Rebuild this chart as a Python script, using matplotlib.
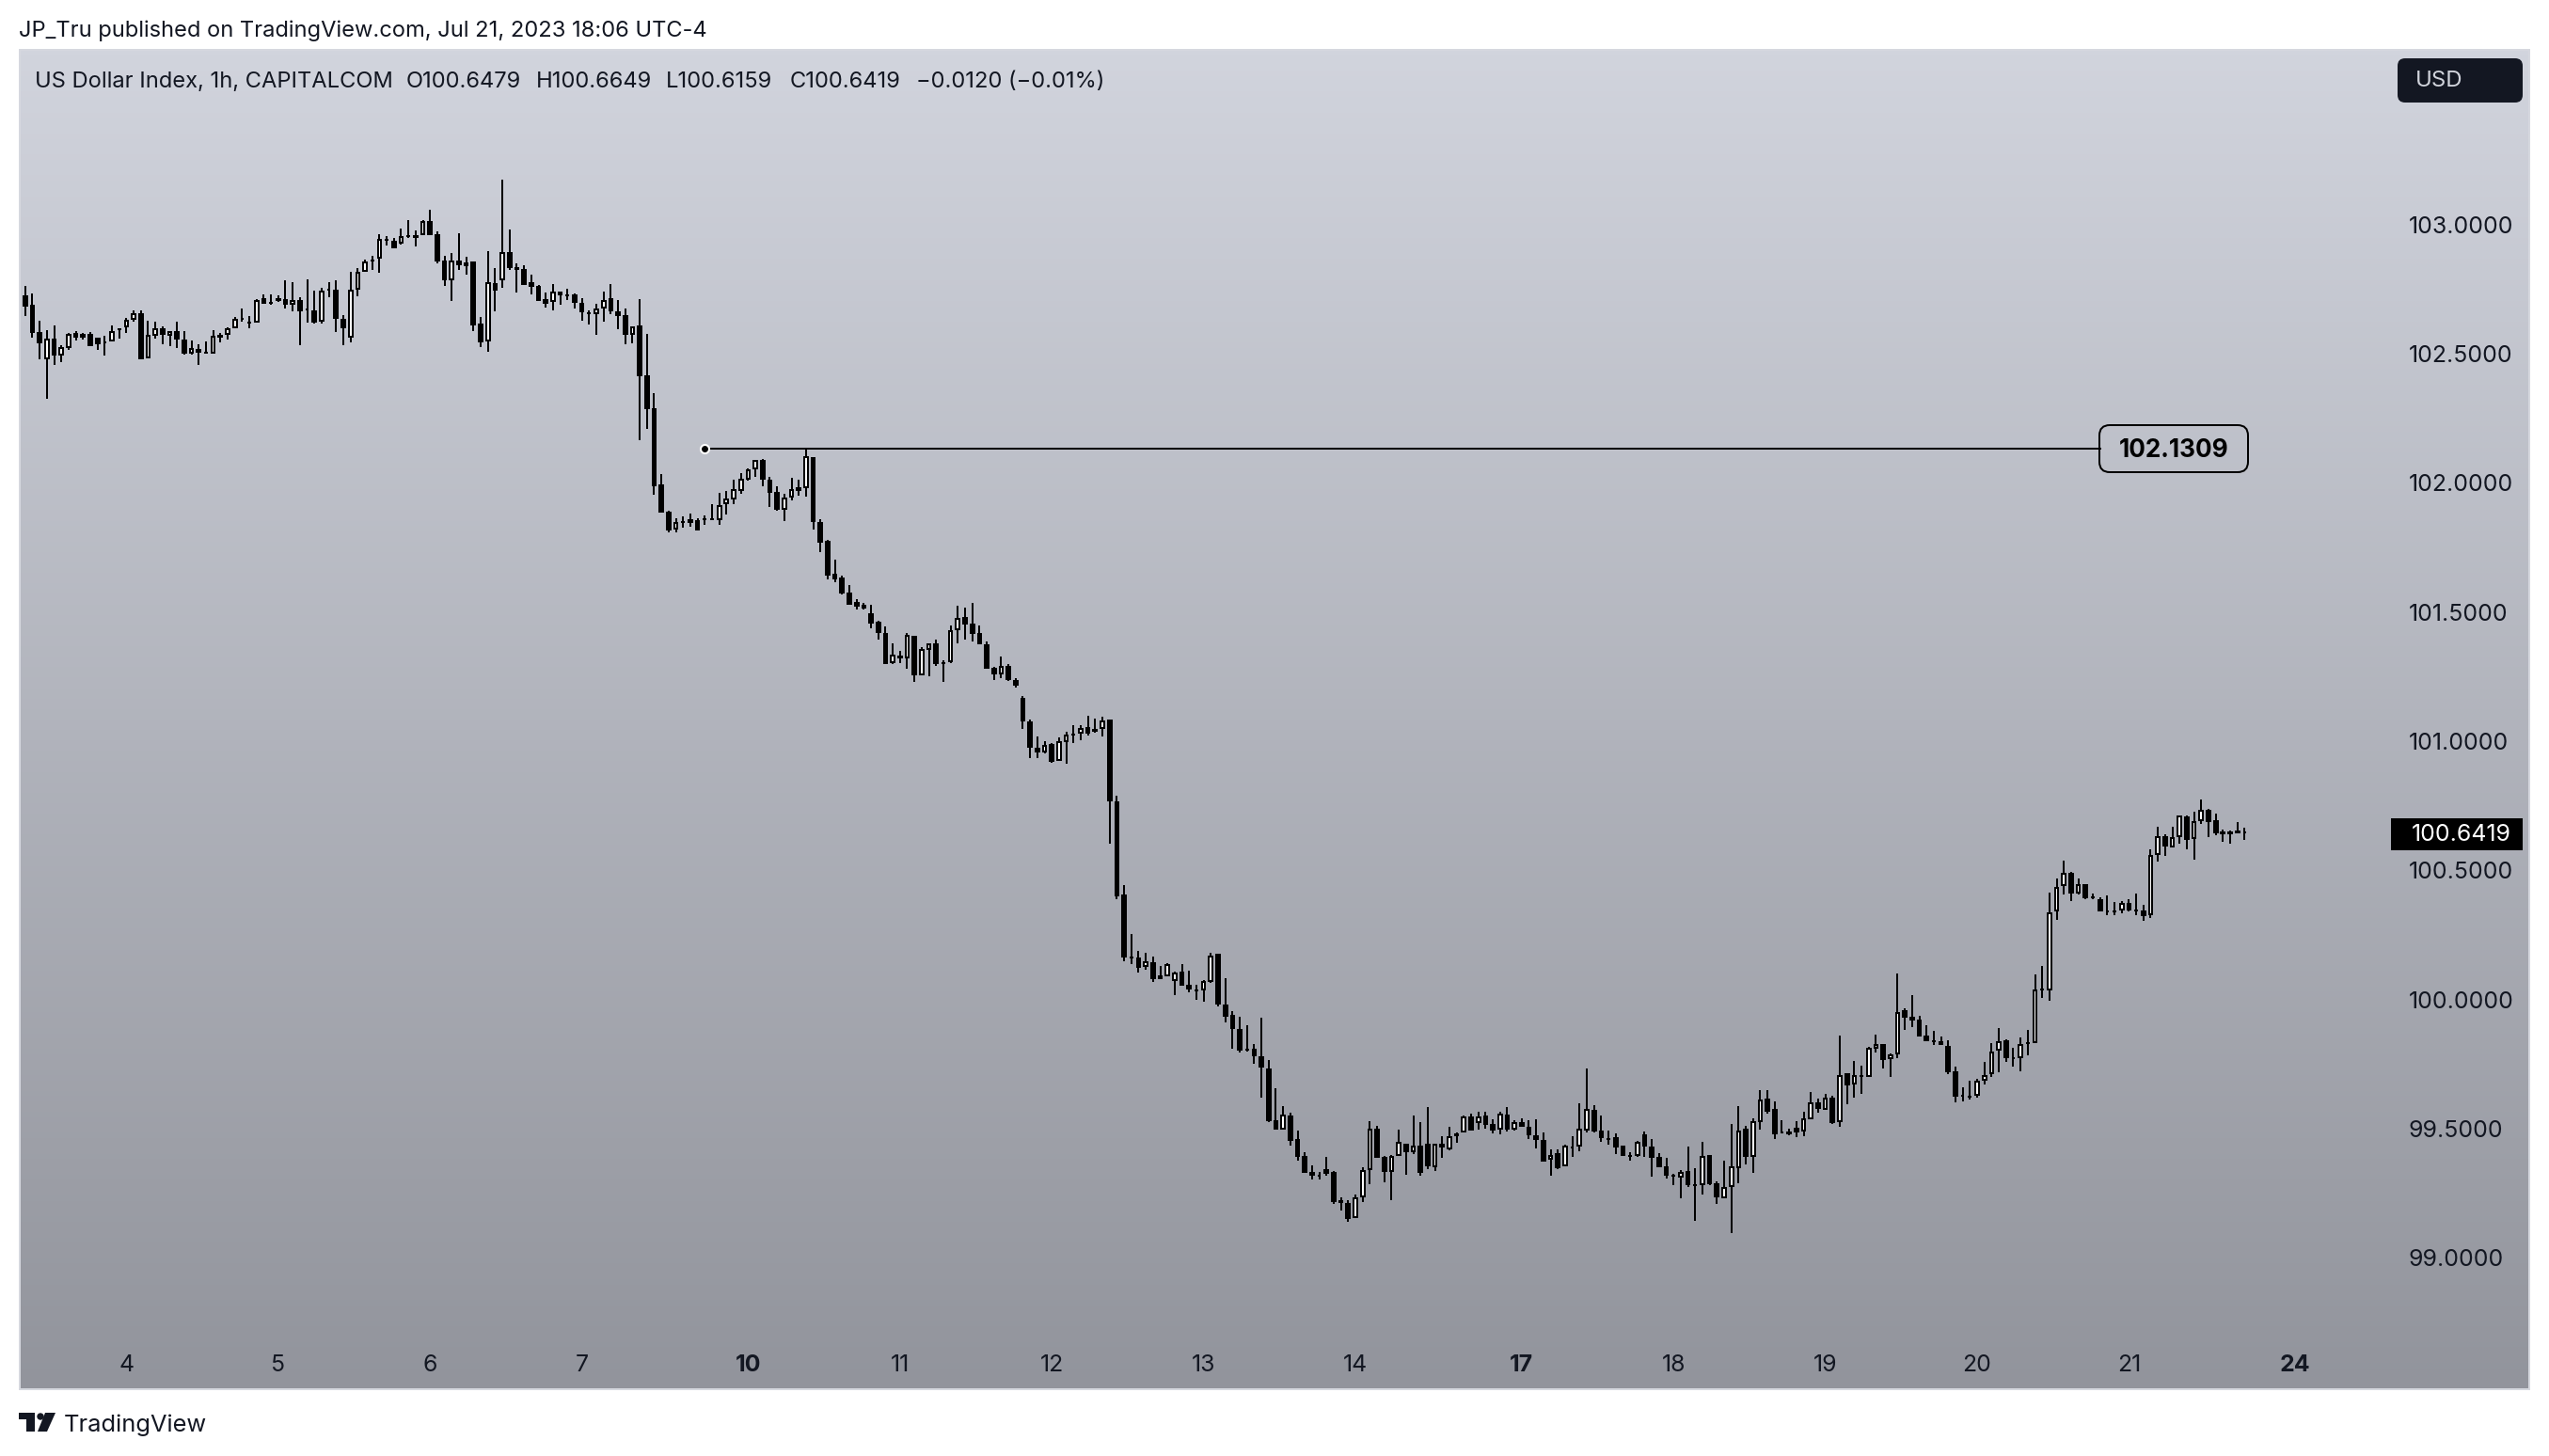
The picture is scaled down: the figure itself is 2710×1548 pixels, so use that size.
import numpy as np
import matplotlib
matplotlib.use("Agg")
import matplotlib.pyplot as plt
from matplotlib.patches import FancyBboxPatch, Polygon, Circle, Rectangle

plt.rcParams['font.family'] = ['Inter', 'DejaVu Sans']

# hourly bars as (open, high, low, close)
bars_jul_03_07 = [
    (102.725,102.725,102.720,102.720),(102.726,102.762,102.647,102.683),(102.689,102.732,102.562,102.580),
    (102.583,102.628,102.479,102.540),(102.479,102.591,102.325,102.557),(102.557,102.609,102.457,102.493),
    (102.494,102.534,102.467,102.527),(102.522,102.580,102.515,102.578),(102.581,102.587,102.551,102.562),
    (102.562,102.580,102.555,102.578),(102.575,102.583,102.529,102.529),(102.561,102.562,102.513,102.536),
    (102.546,102.568,102.493,102.542),(102.546,102.609,102.546,102.587),(102.597,102.597,102.558,102.590),
    (102.601,102.637,102.580,102.630),(102.632,102.666,102.625,102.655),(102.656,102.666,102.479,102.479),
    (102.483,102.628,102.483,102.574),(102.570,102.624,102.558,102.600),(102.600,102.607,102.536,102.573),
    (102.570,102.586,102.528,102.586),(102.587,102.624,102.522,102.556),(102.555,102.587,102.496,102.500),
    (102.500,102.551,102.496,102.521),(102.517,102.536,102.456,102.505),(102.506,102.546,102.500,102.502),
    (102.501,102.591,102.501,102.568),(102.574,102.580,102.544,102.563),(102.574,102.601,102.555,102.600),
    (102.600,102.643,102.598,102.633),(102.636,102.675,102.625,102.631),(102.623,102.646,102.598,102.619),
    (102.619,102.710,102.619,102.709),(102.714,102.728,102.694,102.694),(102.698,102.728,102.689,102.694),
    (102.703,102.727,102.701,102.716),(102.712,102.784,102.675,102.689),(102.690,102.777,102.664,102.709),
    (102.707,102.718,102.533,102.664),(102.674,102.788,102.620,102.666),(102.666,102.744,102.618,102.620),
    (102.623,102.754,102.616,102.743),(102.750,102.777,102.718,102.745),(102.746,102.783,102.585,102.636),
    (102.633,102.648,102.533,102.600),(102.561,102.816,102.544,102.749),(102.749,102.831,102.722,102.816),
    (102.816,102.865,102.816,102.856),(102.863,102.879,102.824,102.859),(102.867,102.962,102.813,102.943),
    (102.943,102.955,102.919,102.938),(102.937,102.949,102.908,102.908),(102.927,102.983,102.924,102.956),
    (102.956,103.017,102.949,102.953),(102.958,102.977,102.915,102.949),(102.958,103.017,102.958,103.015),
    (103.013,103.057,102.959,102.959),(102.961,102.972,102.850,102.858),(102.860,102.879,102.762,102.785),
    (102.785,102.888,102.704,102.859),(102.860,102.966,102.824,102.842),(102.852,102.875,102.806,102.840),
    (102.857,102.857,102.587,102.610),(102.616,102.642,102.525,102.545),(102.546,102.897,102.507,102.776),
    (102.773,102.831,102.664,102.745),(102.783,103.174,102.755,102.892),(102.893,102.981,102.824,102.833),
    (102.834,102.850,102.737,102.825),(102.828,102.842,102.766,102.766),(102.777,102.806,102.729,102.760),
    (102.762,102.765,102.704,102.704),(102.710,102.737,102.678,102.694),(102.699,102.769,102.667,102.739),
    (102.739,102.740,102.689,102.725),(102.728,102.751,102.707,102.723),(102.728,102.732,102.675,102.698),
    (102.697,102.715,102.627,102.660),(102.660,102.667,102.613,102.652),(102.653,102.693,102.573,102.676),
    (102.674,102.740,102.624,102.709),(102.714,102.769,102.653,102.665),(102.663,102.707,102.595,102.646),
    (102.648,102.675,102.536,102.573),(102.573,102.607,102.540,102.606),(102.608,102.711,102.165,102.414),
    (102.415,102.576,102.209,102.285),(102.287,102.347,101.954,101.986),
]

bars_jul_10_14 = [
    (101.993,102.033,101.886,101.886),(101.888,101.891,101.808,101.815),(101.819,101.862,101.808,101.847),
    (101.852,101.869,101.828,101.845),(101.858,101.880,101.831,101.846),(101.855,101.863,101.815,101.815),
    (101.860,101.874,101.837,101.857),(101.860,101.917,101.857,101.857),(101.854,101.961,101.837,101.915),
    (101.917,101.968,101.877,101.938),(101.936,102.012,101.917,101.974),(101.970,102.038,101.957,102.014),
    (102.012,102.056,102.008,102.053),(102.051,102.090,102.023,102.087),(102.089,102.092,101.987,102.012),
    (102.012,102.023,101.906,101.961),(101.965,101.987,101.892,101.896),(101.896,101.957,101.852,101.943),
    (101.943,102.019,101.932,101.974),(101.983,102.012,101.950,101.968),(101.979,102.1309,101.947,102.102),
    (102.099,102.099,101.819,101.848),(101.848,101.859,101.732,101.768),(101.775,101.778,101.626,101.641),
    (101.648,101.703,101.615,101.626),(101.633,101.641,101.568,101.571),(101.575,101.604,101.528,101.528),
    (101.539,101.550,101.509,101.520),(101.528,101.535,101.509,101.513),(101.495,101.528,101.437,101.455),
    (101.462,101.466,101.393,101.418),(101.418,101.444,101.298,101.298),(101.301,101.378,101.298,101.333),
    (101.331,101.349,101.302,101.319),(101.320,101.418,101.280,101.411),(101.407,101.407,101.229,101.255),
    (101.253,101.364,101.253,101.356),(101.354,101.378,101.251,101.377),(101.378,101.393,101.291,101.298),
    (101.306,101.313,101.229,101.301),(101.304,101.448,101.302,101.429),(101.429,101.524,101.378,101.477),
    (101.480,101.517,101.393,101.451),(101.455,101.535,101.386,101.415),(101.418,101.448,101.375,101.375),
    (101.375,101.384,101.280,101.280),(101.284,101.287,101.236,101.258),(101.258,101.327,101.244,101.290),
    (101.291,101.298,101.233,101.236),(101.238,101.244,101.207,101.214),(101.167,101.174,101.047,101.076),
    (101.076,101.083,100.934,100.974),(100.974,101.018,100.934,100.957),(100.956,101.000,100.952,100.984),
    (100.989,100.992,100.916,100.919),(100.922,101.014,100.922,100.998),(100.996,101.036,100.912,101.024),
    (101.027,101.061,100.992,101.024),(101.027,101.061,101.003,101.049),(101.053,101.098,101.021,101.029),
    (101.036,101.087,101.032,101.047),(101.048,101.094,101.018,101.081),(101.083,101.083,100.603,100.766),
    (100.766,100.787,100.389,100.400),(100.405,100.442,100.149,100.162),(100.167,100.252,100.138,100.160),
    (100.162,100.188,100.104,100.121),(100.124,100.182,100.116,100.146),(100.143,100.166,100.068,100.078),
    (100.093,100.130,100.079,100.079),(100.091,100.141,100.091,100.138),(100.071,100.107,100.018,100.104),
    (100.106,100.137,100.053,100.053),(100.056,100.111,100.028,100.038),(100.038,100.056,100.000,100.032),
    (100.033,100.074,99.990,100.072),(100.068,100.182,100.065,100.171),(100.177,100.178,99.972,99.979),
    (99.979,100.082,99.912,99.933),(99.940,99.954,99.809,99.887),(99.884,99.933,99.794,99.801),
    (99.809,99.900,99.798,99.803),(99.808,99.828,99.750,99.781),(99.780,99.929,99.619,99.735),
    (99.734,99.764,99.525,99.530),(99.532,99.656,99.497,99.497),(99.497,99.586,99.497,99.553),
    (99.550,99.561,99.434,99.452),(99.458,99.491,99.376,99.390),(99.394,99.408,99.328,99.328),
    (99.331,99.357,99.302,99.317),(99.321,99.332,99.302,99.313),(99.341,99.390,99.317,99.323),
    (99.330,99.335,99.208,99.215),(99.222,99.232,99.182,99.210),(99.211,99.222,99.139,99.148),
    (99.153,99.243,99.153,99.235),(99.235,99.349,99.215,99.338),(99.338,99.530,99.284,99.498),
    (99.500,99.512,99.388,99.388),(99.390,99.394,99.292,99.331),(99.330,99.397,99.224,99.392),
    (99.395,99.494,99.395,99.447),(99.442,99.442,99.321,99.408),(99.409,99.550,99.401,99.435),
    (99.435,99.525,99.317,99.327),(99.442,99.583,99.341,99.352),(99.351,99.442,99.335,99.441),
    (99.440,99.469,99.387,99.426),(99.419,99.507,99.416,99.469),(99.480,99.483,99.444,99.469),
    (99.483,99.551,99.483,99.548),(99.547,99.559,99.493,99.493),(99.522,99.565,99.497,99.548),
    (99.550,99.565,99.500,99.515),(99.519,99.536,99.482,99.493),(99.494,99.566,99.477,99.558),
    (99.555,99.582,99.488,99.494),(99.497,99.533,99.493,99.523),(99.525,99.541,99.507,99.507),
    (99.507,99.533,99.459,99.473),(99.472,99.537,99.423,99.456),(99.455,99.483,99.372,99.372),
    (99.380,99.419,99.317,99.399),
]

bars_jul_17_21 = [
    (99.405,99.419,99.343,99.346),(99.352,99.436,99.352,99.434),(99.430,99.470,99.390,99.426),
    (99.431,99.596,99.412,99.498),(99.492,99.732,99.485,99.577),(99.572,99.589,99.485,99.488),
    (99.492,99.550,99.448,99.463),(99.463,99.492,99.437,99.459),(99.466,99.481,99.401,99.426),
    (99.434,99.434,99.394,99.394),(99.397,99.407,99.375,99.390),(99.392,99.451,99.390,99.447),
    (99.477,99.488,99.390,99.430),(99.430,99.458,99.313,99.386),(99.390,99.405,99.350,99.350),
    (99.354,99.386,99.306,99.317),(99.321,99.324,99.281,99.313),(99.310,99.339,99.230,99.333),
    (99.335,99.430,99.273,99.281),(99.283,99.346,99.142,99.278),(99.282,99.448,99.244,99.395),
    (99.397,99.397,99.281,99.284),(99.288,99.295,99.208,99.233),(99.231,99.375,99.231,99.275),
    (99.275,99.517,99.095,99.352),(99.346,99.587,99.288,99.493),(99.499,99.509,99.361,99.390),
    (99.391,99.539,99.328,99.527),(99.526,99.647,99.496,99.611),(99.615,99.647,99.557,99.565),
    (99.576,99.605,99.459,99.477),(99.487,99.532,99.481,99.481),(99.488,99.499,99.474,99.477),
    (99.502,99.528,99.466,99.485),(99.487,99.564,99.470,99.538),(99.537,99.641,99.537,99.600),
    (99.600,99.616,99.561,99.576),(99.573,99.633,99.572,99.618),(99.619,99.625,99.517,99.521),
    (99.523,99.860,99.506,99.708),(99.713,99.713,99.594,99.667),(99.669,99.761,99.619,99.706),
    (99.706,99.743,99.634,99.701),(99.701,99.815,99.701,99.814),(99.810,99.863,99.794,99.828),
    (99.826,99.827,99.732,99.766),(99.769,99.790,99.699,99.786),(99.786,100.100,99.772,99.952),
    (99.958,99.964,99.882,99.930),(99.931,100.016,99.892,99.919),(99.922,99.935,99.856,99.856),
    (99.860,99.900,99.838,99.838),(99.841,99.878,99.823,99.835),(99.839,99.856,99.823,99.823),
    (99.820,99.841,99.710,99.716),(99.720,99.739,99.601,99.624),(99.628,99.659,99.606,99.622),
    (99.628,99.685,99.612,99.620),(99.628,99.691,99.619,99.686),(99.686,99.758,99.670,99.708),
    (99.710,99.831,99.699,99.797),(99.800,99.889,99.718,99.839),(99.841,99.845,99.758,99.772),
    (99.775,99.812,99.739,99.769),(99.771,99.852,99.721,99.826),(99.831,99.882,99.783,99.827),
    (99.829,100.096,99.829,100.037),(100.041,100.129,100.005,100.033),(100.034,100.413,99.994,100.338),
    (100.339,100.468,100.308,100.436),(100.438,100.537,100.406,100.489),(100.491,100.493,100.380,100.410),
    (100.408,100.468,100.406,100.445),(100.446,100.446,100.388,100.391),(100.397,100.410,100.388,100.393),
    (100.389,100.395,100.340,100.340),(100.344,100.402,100.326,100.340),(100.342,100.377,100.326,100.337),
    (100.344,100.380,100.333,100.372),(100.373,100.388,100.340,100.344),(100.346,100.410,100.326,100.342),
    (100.344,100.366,100.304,100.322),(100.327,100.580,100.315,100.558),(100.558,100.668,100.533,100.633),
    (100.631,100.639,100.555,100.592),(100.587,100.668,100.587,100.627),(100.628,100.712,100.603,100.711),
    (100.708,100.712,100.581,100.618),(100.620,100.726,100.541,100.689),(100.689,100.774,100.679,100.735),
    (100.734,100.737,100.628,100.686),(100.694,100.719,100.635,100.643),(100.649,100.657,100.610,100.638),
    (100.649,100.654,100.603,100.638),(100.652,100.686,100.644,100.644),(100.6479,100.6649,100.6159,100.6419),
]

price_ticks = [99.0, 99.5, 100.0, 100.5, 101.0, 101.5, 102.0, 102.5, 103.0]
day_ticks = [15, 36, 57, 78, 101, 122, 143, 164, 185, 208, 229, 250, 271, 292, 315]
day_labels = ['4', '5', '6', '7', '10', '11', '12', '13', '14', '17', '18', '19', '20', '21', '24']
bold_days = ['10', '17', '24']
line_level = 102.1309
line_start = 95
line_end = 288

TEXT = '#131722'
W, H = 2710, 1548
# panel edges in pixels
LEFT, RIGHT, TOP, BOTTOM = 20.5, 2689, 53, 1477
PX_PER_BAR = 7.686
PX_PER_UNIT = 274.6

bars = np.array(bars_jul_03_07 + bars_jul_10_14 + bars_jul_17_21)
opens, highs, lows, closes = bars.T
x = np.arange(len(bars))

fig = plt.figure(figsize=(W / 100, H / 100), dpi=100, facecolor='white')
ax = fig.add_axes([LEFT / W, 1 - BOTTOM / H, (RIGHT - LEFT) / W, (BOTTOM - TOP) / H])

# vertical gradient behind the candles
top_col = np.array([209, 212, 221]) / 255
bot_col = np.array([146, 148, 156]) / 255
grad = np.linspace(0, 1, 256)[:, None, None] * (bot_col - top_col) + top_col
ax.imshow(grad, extent=(0, 1, 0, 1), transform=ax.transAxes, aspect='auto', zorder=0)

# wicks then bodies
lw = 1.44
ax.vlines(x, lows, highs, color='black', linewidth=lw, zorder=2)
up = closes >= opens
body_low = np.minimum(opens, closes)
body_high = np.maximum(opens, closes)
pad = 2 / PX_PER_UNIT  # border sits outside the body edge
body_h = np.maximum(body_high - body_low - pad, 0)
body_mid = (body_low + body_high) / 2
ax.bar(x, body_h, bottom=body_mid - body_h / 2, width=0.48,
       color=np.where(up, 'white', 'black'), edgecolor='black', linewidth=lw, zorder=3)

# anchored price line
ax.plot([line_start, line_end], [line_level, line_level], color='black', linewidth=lw, zorder=4)
ax.plot([line_start], [line_level], marker='o', markersize=6.5, markerfacecolor='black',
        markeredgecolor='white', markeredgewidth=1.5, zorder=5)

ax.set_xlim((LEFT - 26.8) / PX_PER_BAR + 1, (RIGHT - 26.8) / PX_PER_BAR + 1)
ax.set_ylim(102 - (BOTTOM - 513.3) / PX_PER_UNIT, 102 + (513.3 - TOP) / PX_PER_UNIT)

ax.yaxis.tick_right()
ax.set_yticks(price_ticks, [f'{p:.4f}' for p in price_ticks])
ax.tick_params(axis='y', length=0, pad=-92.5, labelsize=17.9, labelcolor=TEXT)
ax.set_xticks(day_ticks, day_labels)
ax.tick_params(axis='x', length=0, pad=-27, labelsize=17.9, labelcolor=TEXT)
for lab in ax.get_xticklabels():
    if lab.get_text() in bold_days:
        lab.set_fontweight('bold')
for side in ax.spines.values():
    side.set_color('#d6d8df')
    side.set_linewidth(1.44)

# last price tag
tag_x = (2542 - LEFT) / (RIGHT - LEFT)
tag_w = 140 / (RIGHT - LEFT)
tag_h = 34 / PX_PER_UNIT
ax.add_patch(Rectangle((tag_x, closes[-1] - 0.003 - tag_h / 2), tag_w, tag_h, facecolor='black', edgecolor='none',
                       transform=ax.get_yaxis_transform(), zorder=6))
ax.text((2670 - LEFT) / (RIGHT - LEFT), closes[-1] - 0.006, f'{closes[-1]:.4f}', color='white', fontsize=17.9,
        ha='right', va='center', transform=ax.get_yaxis_transform(), zorder=7)

# page furniture drawn in pixel coordinates
ov = fig.add_axes([0, 0, 1, 1], facecolor='none')
ov.set_xlim(0, W)
ov.set_ylim(H, 0)
ov.axis('off')

ov.text(20, 33, 'JP_Tru published on TradingView.com, Jul 21, 2023 18:06 UTC-4', fontsize=17.05,
        color=TEXT, ha='left', va='center')
ov.text(37, 87, 'US Dollar Index, 1h, CAPITALCOM', fontsize=17.05, color=TEXT, ha='left', va='center')
ov.text(432, 87, 'O100.6479', fontsize=17.05, color=TEXT, ha='left', va='center')
ov.text(570, 87, 'H100.6649', fontsize=17.05, color=TEXT, ha='left', va='center')
ov.text(708, 87, 'L100.6159', fontsize=17.05, color=TEXT, ha='left', va='center')
ov.text(840, 87, 'C100.6419', fontsize=17.05, color=TEXT, ha='left', va='center')
ov.text(974, 87, '\u22120.0120 (\u22120.01%)', fontsize=17.05, color=TEXT, ha='left', va='center')

ov.add_patch(FancyBboxPatch((2549, 62), 133, 47, boxstyle='round,pad=0,rounding_size=8',
                            facecolor=TEXT, edgecolor='none'))
ov.text(2568, 86, 'USD', color='#d1d4dc', fontsize=17.3, ha='left', va='center')

ov.add_patch(FancyBboxPatch((2232, 452), 158, 50, boxstyle='round,pad=0,rounding_size=11',
                            facecolor='none', edgecolor='black', linewidth=lw))
ov.text(2311, 479, f'{line_level:.4f}', color='black', fontsize=18.8, fontweight='bold', ha='center', va='center')

# TradingView mark
ov.add_patch(Polygon([(20, 1502), (37, 1502), (37, 1522), (28, 1522), (28, 1509), (20, 1509)],
                     closed=True, facecolor=TEXT, edgecolor='none'))
ov.add_patch(Circle((43, 1506), 3.7, facecolor=TEXT, edgecolor='none'))
ov.add_patch(Polygon([(48, 1502), (59, 1502), (50, 1522), (40, 1522)], closed=True, facecolor=TEXT, edgecolor='none'))
ov.text(68, 1515, 'TradingView', color=TEXT, fontsize=18.3, ha='left', va='center')

fig.savefig('out.png', dpi=100, facecolor='white')
